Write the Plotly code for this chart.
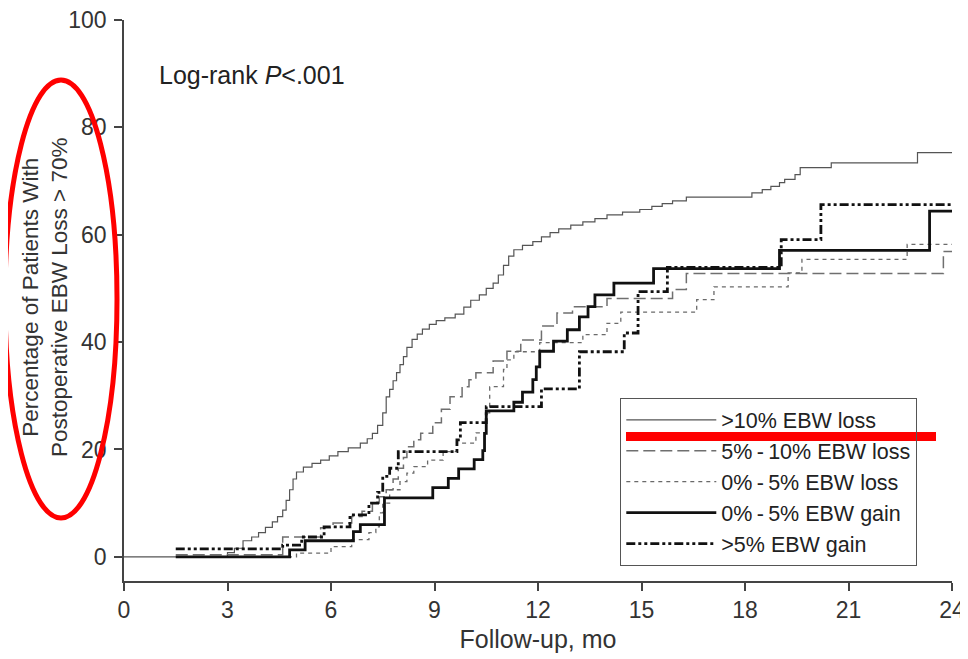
import plotly.graph_objects as go

# ---------------- data ----------------
loss10_t = [0, 3.0, 3.2, 3.45, 3.7, 3.9, 4.1, 4.3, 4.45, 4.6, 4.7, 4.8, 4.9, 5.0, 5.2, 5.45,
            5.7, 5.95, 6.2, 6.5, 6.85, 7.05, 7.2, 7.35, 7.5, 7.6, 7.7, 7.8, 7.9, 8.0, 8.1,
            8.2, 8.35, 8.5, 8.65, 8.85, 9.05, 9.3, 9.6, 9.85, 10.05, 10.3, 10.5, 10.7, 10.85,
            11.0, 11.15, 11.3, 11.55, 11.85, 12.1, 12.35, 12.6, 12.95, 13.3, 13.65, 14.0,
            14.45, 14.95, 15.3, 15.6, 15.9, 16.3, 18.2, 18.5, 18.75, 19.0, 19.15, 19.45,
            19.6, 20.5, 23.0, 24.0]
loss10_v = [0, 0.8, 1.6, 3.0, 3.7, 4.5, 5.5, 6.5, 7.5, 8.7, 10.5, 12.5, 14.5, 15.8, 16.7, 17.4,
            18.0, 18.8, 19.6, 20.3, 21.2, 22.0, 23.0, 24.5, 26.8, 29.8, 31.2, 32.8, 34.3, 35.8, 37.3,
            39.0, 40.5, 41.5, 42.4, 43.3, 44.0, 44.5, 45.2, 46.5, 47.8, 48.8, 50.0, 51.0, 52.5,
            54.3, 56.0, 57.2, 58.0, 58.7, 59.6, 60.4, 61.1, 61.8, 62.4, 63.0, 63.7,
            64.2, 64.7, 65.3, 65.8, 66.3, 67.0, 67.8, 68.4, 69.0, 69.7, 70.3, 71.2,
            72.5, 73.4, 75.3, 75.3]

loss5_10_t = [1.5, 4.6, 5.7, 6.06, 6.6, 6.9, 7.2, 7.4, 7.6, 7.8, 7.95, 8.1, 8.2, 8.4, 8.6,
              8.95, 9.2, 9.45, 9.8, 10.0, 10.2, 10.7, 11.1, 11.5, 12.1, 12.55, 13.0, 14.0,
              15.9, 16.3, 23.75, 24.0]
loss5_10_v = [0.4, 3.7, 5.4, 6.3, 7.5, 8.5, 10.0, 11.2, 12.5, 14.5, 16.5, 18.5, 20.5, 21.8, 23.0,
              25.0, 27.5, 29.8, 31.7, 33.0, 34.3, 36.5, 38.3, 40.4, 43.0, 45.4, 46.6, 48.1,
              49.8, 52.8, 56.9, 56.9]

loss0_5_t = [2.2, 5.0, 6.0, 6.6, 7.1, 7.3, 7.4, 7.5, 7.7, 8.0, 8.2, 8.4, 8.8, 9.25, 9.65,
             10.2, 10.5, 10.6, 11.0, 11.1, 11.3, 12.05, 13.3, 14.0, 14.4, 16.6, 17.1, 19.25,
             19.65, 22.7, 24.0]
loss0_5_v = [0, 0.7, 1.9, 3.2, 4.5, 5.6, 8.2, 10.0, 12.5, 14.0, 15.6, 16.8, 18.0, 19.6, 21.2,
             23.1, 26.8, 31.7, 34.9, 36.7, 38.2, 39.9, 41.4, 43.5, 45.6, 47.9, 50.3, 52.9,
             55.4, 58.2, 58.2]

gain0_5_t = [1.5, 4.8, 5.25, 6.65, 6.85, 7.55, 8.95, 9.4, 9.7, 10.15, 10.4, 10.45, 10.5, 11.3,
             11.55, 11.85, 11.95, 12.05, 12.45, 12.85, 13.2, 13.45, 13.65, 14.2, 15.35, 19.0,
             23.35, 24.0]
gain0_5_v = [0, 1.3, 3.0, 4.7, 6.0, 11.0, 12.9, 14.6, 16.4, 18.1, 19.8, 23.0, 27.2, 28.8,
             30.7, 33.0, 35.4, 38.3, 40.2, 42.3, 44.7, 46.6, 48.8, 51.0, 53.7, 57.1,
             64.4, 64.4]

gain5_t = [1.5, 4.6, 5.15, 5.8, 6.55, 7.1, 7.35, 7.5, 7.7, 7.95, 9.65, 9.75, 10.5, 12.1,
           13.2, 14.5, 14.9, 15.75, 19.05, 20.2, 24.0]
gain5_v = [1.5, 2.2, 3.7, 5.6, 7.8, 10.0, 12.0, 15.0, 16.5, 19.6, 21.8, 25.0, 28.0, 31.3,
           38.2, 41.7, 49.4, 53.9, 59.1, 65.6, 65.6]

series_names = [">10% EBW loss", "5%\u2009-\u200910% EBW loss", "0%\u2009-\u20095% EBW loss",
                "0%\u2009-\u20095% EBW gain", ">5% EBW gain"]
x_ticks = [0, 3, 6, 9, 12, 15, 18, 21, 24]
y_ticks = [0, 20, 40, 60, 80, 100]

# ---------------- figure ----------------
FONT = "Liberation Sans, Arial, sans-serif"
OFF = 8                      # page body margin of the written html
W, H = 968 - OFF, 659 - OFF
# plot area in screen pixels: x 124..952, y 20.5..581
ML, MT = 124 - OFF, 20 - OFF
MR = W - (952 - OFF)
MB = H - (581 - OFF)

styles = [
    dict(color="#555555", width=1.2, dash="solid"),
    dict(color="#6f6f6f", width=1.5, dash="12px,5px"),
    dict(color="#6a6a6a", width=1.3, dash="4px,4px"),
    dict(color="#111111", width=2.8, dash="solid"),
    dict(color="#111111", width=2.8, dash="9px,3px,3px,3px,3px,3px"),
]
data = [(loss10_t, loss10_v), (loss5_10_t, loss5_10_v), (loss0_5_t, loss0_5_v),
        (gain0_5_t, gain0_5_v), (gain5_t, gain5_v)]

fig = go.Figure()
for (t, v), name, st in zip(data, series_names, styles):
    fig.add_trace(go.Scatter(x=t, y=v, mode="lines", name=name,
                             line=dict(shape="hv", **st)))

pw = W - ML - MR
ph = H - MT - MB


def px(x):
    """screen x pixel -> paper fraction"""
    return (x - OFF - ML) / pw


def py(y):
    """screen y pixel -> paper fraction"""
    return (H - MB - (y - OFF)) / ph


fig.update_layout(
    width=W, height=H,
    margin=dict(l=ML, r=MR, t=MT, b=MB, autoexpand=False),
    paper_bgcolor="white", plot_bgcolor="white",
    font=dict(family=FONT, color="#333333", size=21),
    showlegend=True,
    legend=dict(x=px(620), y=py(398), xanchor="left", yanchor="top",
                bgcolor="rgba(255,255,255,0)", bordercolor="#555555", borderwidth=1.3,
                font=dict(size=21.5, family=FONT, color="#222222"),
                tracegroupgap=0, itemwidth=90),
    xaxis=dict(range=[0, 24], tickvals=x_ticks, ticks="outside", ticklen=8,
               tickwidth=1.5, tickcolor="#444", showline=True, linecolor="#444",
               linewidth=1.5, showgrid=False, zeroline=False, automargin=False,
               ticklabeloverflow="allow",
               tickfont=dict(size=23),
               title=dict(text="Follow-up, mo", font=dict(size=25), standoff=8)),
    yaxis=dict(range=[-4.5, 100], tickvals=y_ticks, ticks="outside", ticklen=8,
               tickwidth=1.5, tickcolor="#444", showline=True, linecolor="#444",
               linewidth=1.5, showgrid=False, zeroline=False, automargin=False,
               ticklabelstandoff=3, ticklabeloverflow="allow",
               tickfont=dict(size=23)),
)

# y-axis title (two lines, rotated)
fig.add_annotation(x=px(45), y=py(297), xref="paper", yref="paper",
                   xanchor="center", yanchor="middle", showarrow=False, textangle=-90,
                   text="Percentage of Patients With<br>Postoperative EBW Loss &gt; 70%",
                   font=dict(size=22.5, color="#333333"))

fig.add_annotation(x=px(157), y=py(75), xref="paper", yref="paper",
                   xanchor="left", yanchor="middle", showarrow=False,
                   text="Log-rank <i>P</i>&lt;.001", font=dict(size=25, color="#222"))

# red highlight marks drawn over the reference image
fig.add_shape(type="circle", xref="paper", yref="paper",
              x0=px(5), x1=px(117), y0=py(80), y1=py(518),
              line=dict(color="#ff0000", width=5))
fig.add_shape(type="rect", xref="paper", yref="paper",
              x0=px(626), x1=px(936), y0=py(432), y1=py(441),
              line=dict(width=0), fillcolor="#ff0000")

fig.write_html("out.html")
